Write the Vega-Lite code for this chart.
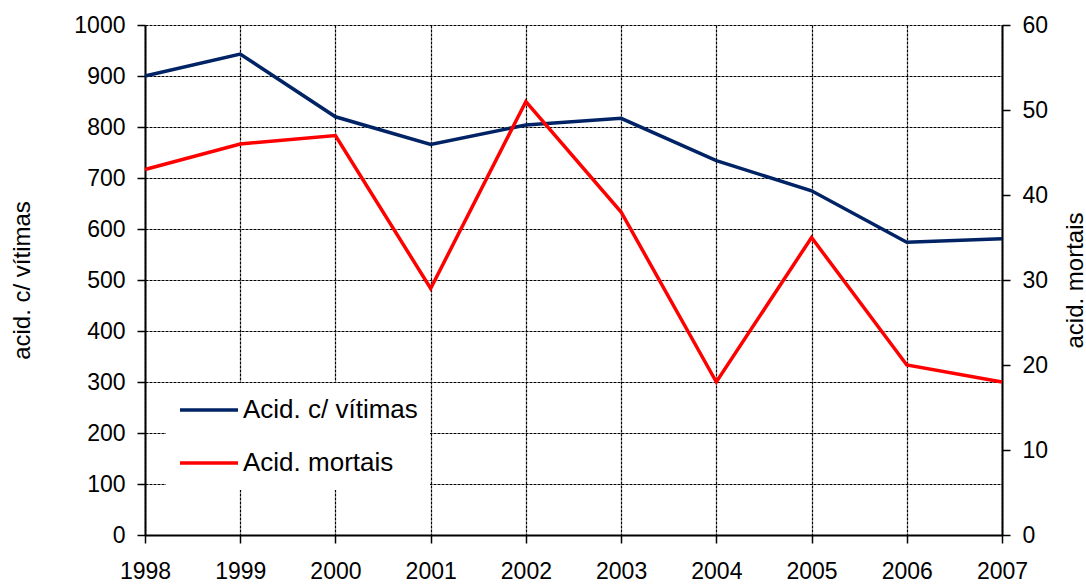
{
  "$schema": "https://vega.github.io/schema/vega-lite/v6.json",
  "autosize": {"type": "none"},
  "width": 857,
  "height": 510,
  "padding": {"left": 145, "top": 25, "right": 84, "bottom": 50},
  "background": "white",
  "config": {
    "view": {"stroke": null},
    "font": "Liberation Sans",
    "axis": {
      "labelFont": "Liberation Sans",
      "titleFont": "Liberation Sans",
      "labelFontSize": 23,
      "titleFontSize": 24,
      "titleFontWeight": "normal",
      "labelColor": "black",
      "titleColor": "black",
      "domainColor": "black",
      "domainWidth": 2,
      "tickColor": "black",
      "tickWidth": 1.5,
      "tickSize": 8,
      "gridColor": "black",
      "gridOpacity": 1,
      "gridWidth": 1.2,
      "gridDash": [3, 1]
    }
  },
  "data": {
    "values": [
      {"ano": 1998, "vitimas": 900, "mortais": 43},
      {"ano": 1999, "vitimas": 943, "mortais": 46},
      {"ano": 2000, "vitimas": 820, "mortais": 47},
      {"ano": 2001, "vitimas": 766, "mortais": 29},
      {"ano": 2002, "vitimas": 804, "mortais": 51},
      {"ano": 2003, "vitimas": 817, "mortais": 38},
      {"ano": 2004, "vitimas": 734, "mortais": 18},
      {"ano": 2005, "vitimas": 675, "mortais": 35},
      {"ano": 2006, "vitimas": 574, "mortais": 20},
      {"ano": 2007, "vitimas": 581, "mortais": 18}
    ]
  },
  "encoding": {
    "x": {
      "field": "ano",
      "type": "quantitative",
      "scale": {"domain": [1998, 2007], "nice": false, "zero": false},
      "axis": {
        "title": null,
        "values": [1998, 1999, 2000, 2001, 2002, 2003, 2004, 2005, 2006, 2007],
        "format": "d",
        "labelPadding": 17,
        "labelFlush": false,
        "labelOverlap": false,
        "grid": true
      }
    }
  },
  "layer": [
    {
      "mark": {"type": "line", "strokeWidth": 3.5},
      "encoding": {
        "y": {
          "field": "vitimas",
          "type": "quantitative",
          "scale": {"domain": [0, 1000], "nice": false},
          "axis": {
            "title": "acid. c/ vítimas",
            "orient": "left",
            "values": [0, 100, 200, 300, 400, 500, 600, 700, 800, 900, 1000],
            "format": "d",
            "labelPadding": 12,
            "grid": true,
            "titleX": -123,
            "titleY": 255,
            "titleAngle": -90,
            "titleAlign": "center",
            "titleBaseline": "middle"
          }
        },
        "color": {
          "datum": "Acid. c/ vítimas",
          "type": "nominal",
          "scale": {
            "domain": ["Acid. c/ vítimas", "Acid. mortais"],
            "range": ["#002366", "#FF0000"]
          },
          "legend": {
            "title": null,
            "orient": "none",
            "legendX": 21,
            "legendY": 358,
            "fillColor": "white",
            "padding": 12,
            "symbolType": "stroke",
            "symbolSize": 3364,
            "symbolStrokeWidth": 3.5,
            "clipHeight": 30,
            "rowPadding": 23,
            "labelOffset": 3,
            "labelFont": "Liberation Sans",
            "labelFontSize": 26,
            "labelColor": "black",
            "labelLimit": 400
          }
        }
      }
    },
    {
      "mark": {"type": "line", "strokeWidth": 3.5},
      "encoding": {
        "y": {
          "field": "mortais",
          "type": "quantitative",
          "scale": {"domain": [0, 60], "nice": false},
          "axis": {
            "title": "acid. mortais",
            "orient": "right",
            "values": [0, 10, 20, 30, 40, 50, 60],
            "format": "d",
            "labelPadding": 12,
            "grid": false,
            "titleX": 73,
            "titleY": 255,
            "titleAngle": -90,
            "titleAlign": "center",
            "titleBaseline": "middle"
          }
        },
        "color": {"datum": "Acid. mortais", "type": "nominal"}
      }
    }
  ],
  "resolve": {"scale": {"y": "independent"}}
}
